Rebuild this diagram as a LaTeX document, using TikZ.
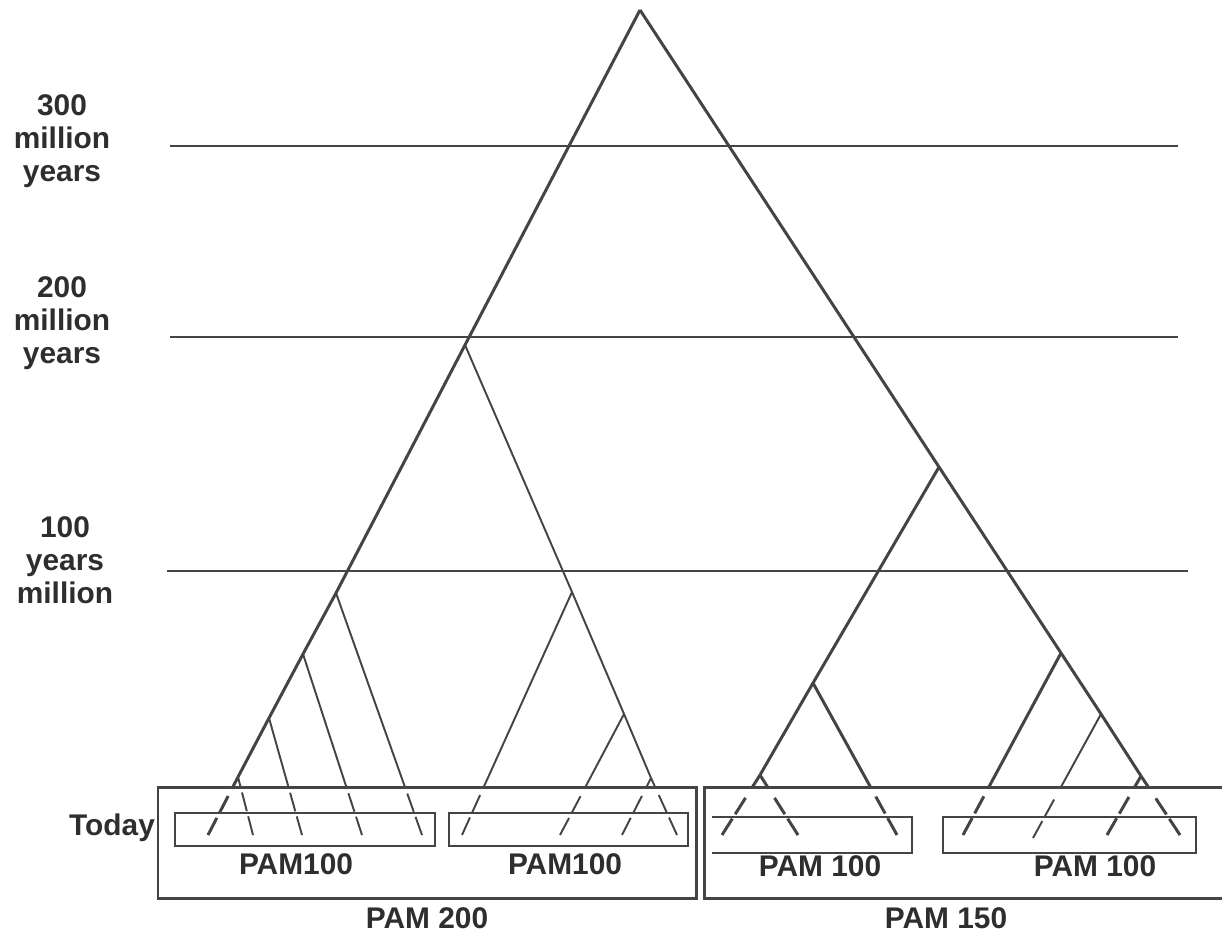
\documentclass[tikz,border=0pt]{standalone}
\usepackage{fontspec}
\setmainfont{Liberation Sans}
\definecolor{ink}{HTML}{2E2E2E}
\definecolor{linea}{HTML}{444444}

\begin{document}
\begin{tikzpicture}[x=0.02cm, y=-0.02cm]
	% Stili comuni
	\tikzset{
		trunk/.style={draw=linea, line width=1.7pt},
		twig/.style={draw=linea, line width=1.1pt},
		epoch/.style={draw=linea, line width=1.2pt},
		frame/.style={draw=linea, line width=1.7pt},
		subframe/.style={draw=linea, line width=1.2pt},
		leafdash/.style={dash pattern=on 11pt off 3pt on 11pt off 200pt},
		lbl/.style={font=\fontsize{17}{18.7}\selectfont\bfseries, text=ink, align=center, inner sep=0pt}
	}
	\useasboundingbox (0,0) rectangle (1222,936);
	
	% Punti di diramazione
	\coordinate (root) at (640,10);
	\coordinate (L) at (465,345);
	\coordinate (g1) at (336,593);
	\coordinate (g2) at (303,654);
	\coordinate (g3) at (269,718);
	\coordinate (g4) at (238,777);
	\coordinate (M) at (572,592);
	\coordinate (N) at (624,714);
	\coordinate (P) at (651,778);
	\coordinate (R1) at (939,467);
	\coordinate (Q) at (813,683);
	\coordinate (S) at (760,775);
	\coordinate (T) at (1061,653);
	\coordinate (U) at (1101,714);
	\coordinate (V) at (1141,776);
	
	% Foglie (oggi)
	\coordinate (a1) at (208,835);
	\coordinate (a2) at (253,835);
	\coordinate (a3) at (302,835);
	\coordinate (a4) at (362,835);
	\coordinate (a5) at (422,835);
	\coordinate (b1) at (462,835);
	\coordinate (b2) at (560,835);
	\coordinate (b3) at (622,835);
	\coordinate (b4) at (677,835);
	\coordinate (c1) at (722,835);
	\coordinate (c2) at (798,835);
	\coordinate (c3) at (897,835);
	\coordinate (c4) at (963,835);
	\coordinate (c5) at (1033,838);
	\coordinate (c6) at (1107,835);
	\coordinate (c7) at (1180,835);
	
	% Linee del tempo
	\draw[epoch] (170,146) -- (1178,146);
	\draw[epoch] (170,337) -- (1178,337);
	\draw[epoch] (167,571) -- (1188,571);
	
	% Rami interni
	\draw[trunk] (root) -- (L) -- (g1) -- (g2) -- (g3) -- (g4);
	\draw[twig] (L) -- (M) -- (N) -- (P);
	\draw[trunk] (root) -- (R1) -- (T) -- (U) -- (V);
	\draw[trunk] (R1) -- (Q) -- (S);
	
	% Rami verso le foglie: parte piena sopra il riquadro
	\begin{scope}
		\clip (0,0) rectangle (1222,787);
		\foreach \from/\to in {g4/a1, S/c1, S/c2, Q/c3, T/c4, V/c6, V/c7}
			\draw[trunk] (\from) -- (\to);
		\foreach \from/\to in {g4/a2, g3/a3, g2/a4, g1/a5, M/b1, N/b2, P/b3, P/b4, U/c5}
			\draw[twig] (\from) -- (\to);
	\end{scope}
	
	% Parte tratteggiata dentro il riquadro
	\begin{scope}
		\clip (0,787) rectangle (1222,936);
		\foreach \from/\to in {g4/a1, S/c1, S/c2, Q/c3, T/c4, V/c6, V/c7}
			\draw[trunk, leafdash] (\to) -- (\from);
		\foreach \from/\to in {g4/a2, g3/a3, g2/a4, g1/a5, M/b1, N/b2, P/b3, P/b4, U/c5}
			\draw[twig, leafdash] (\to) -- (\from);
	\end{scope}
	
	% Riquadri
	\draw[frame] (158,787) rectangle (696,898);
	\draw[frame] (1222,787) -- (704,787) -- (704,898) -- (1222,898);
	\draw[subframe] (175,813) rectangle (435,846);
	\draw[subframe] (449,813) rectangle (688,846);
	\draw[subframe] (712,817) -- (912,817) -- (912,853) -- (712,853);
	\draw[subframe] (943,817) rectangle (1196,853);
	
	% Etichette
	\node[lbl] (t300) at (62,141) {300\\million\\years};
	\node[lbl] (t200) at (62,323) {200\\million\\years};
	\node[lbl] (t100) at (65,560) {100\\years\\million};
	\node[lbl] (today) at (112,828) {Today};
	\node[lbl] (pamA) at (296,864) {PAM100};
	\node[lbl] (pamB) at (565,864) {PAM100};
	\node[lbl] (pamC) at (820,866) {PAM 100};
	\node[lbl] (pamD) at (1095,866) {PAM 100};
	\node[lbl] (pam200) at (427,918) {PAM 200};
	\node[lbl] (pam150) at (946,918) {PAM 150};
\end{tikzpicture}
\end{document}
